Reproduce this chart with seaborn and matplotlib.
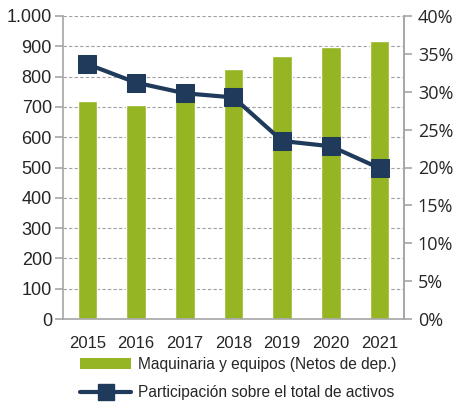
import numpy as np
import pandas as pd
import seaborn as sns
import matplotlib.pyplot as plt
from matplotlib.ticker import FuncFormatter, FixedLocator
from matplotlib.patches import Patch
from matplotlib.lines import Line2D

years = ['2015', '2016', '2017', '2018', '2019', '2020', '2021']
maquinaria = [719, 706, 745, 824, 868, 898, 918]
participacion = [33.65, 31.2, 29.8, 29.25, 23.5, 22.8, 19.9]

green = '#95B523'
navy = '#1F3A5A'
grey = '#A6A6A6'

sns.set_style('white')
plt.rcParams['font.family'] = ['Liberation Sans', 'DejaVu Sans']

fig = plt.figure(figsize=(4.53, 4.09), dpi=100)
ax = fig.add_axes([63 / 453, 90 / 409, 341 / 453, 303 / 409])

df = pd.DataFrame({'year': years, 'value': maquinaria, 'share': participacion})
sns.barplot(data=df, x='year', y='value', color=green, width=0.4,
            saturation=1, ax=ax, zorder=2)

ax.set_xlim(-0.5, 6.5)
ax.set_ylim(0, 1000)
ax.set_yticks(np.arange(0, 1001, 100))
ax.yaxis.set_major_formatter(FuncFormatter(lambda v, p: f'{int(v):,}'.replace(',', '.')))
ax.set_xlabel('')
ax.set_ylabel('')
ax.set_axisbelow(True)
ax.yaxis.grid(True, linestyle=(0, (3, 2)), color='#A0A0A0', linewidth=0.8)

ax.spines['top'].set_visible(False)
for s in ['left', 'right', 'bottom']:
    ax.spines[s].set_color(grey)
    ax.spines[s].set_linewidth(1.2)

ax.tick_params(axis='x', which='major', length=0, labelsize=12, pad=12)
ax.xaxis.set_minor_locator(FixedLocator(np.arange(-0.5, 7, 1)))
ax.tick_params(axis='x', which='minor', length=5, color=grey, width=1.2, direction='out')
ax.tick_params(axis='y', length=6, color=grey, width=1.2, labelsize=13, pad=2, left=True)

ax2 = ax.twinx()
sns.lineplot(x=np.arange(len(years)), y=participacion, ax=ax2, color=navy,
             linewidth=3, marker='s', markersize=13, markeredgecolor=navy, zorder=5)
ax2.set_ylim(0, 40)
ax2.set_yticks(np.arange(0, 41, 5))
ax2.yaxis.set_major_formatter(FuncFormatter(lambda v, p: f'{int(v)}%'))
ax2.tick_params(axis='y', length=6, color=grey, width=1.2, labelsize=13, pad=4, right=True)
for lab in ax2.get_yticklabels():
    lab.set_fontfamily(['Open Sans', 'DejaVu Sans'])
for s in ['top', 'left', 'bottom']:
    ax2.spines[s].set_visible(False)
ax2.spines['right'].set_color(grey)
ax2.spines['right'].set_linewidth(1.2)

handles = [Patch(facecolor=green, edgecolor='none'),
           Line2D([0], [0], color=navy, linewidth=3, marker='s', markersize=11)]
labels = ['Maquinaria y equipos (Netos de dep.)', 'Participación sobre el total de activos']
fig.legend(handles, labels, loc='upper left', bbox_to_anchor=(80 / 453, 1 - 357 / 409),
           ncol=1, frameon=False, fontsize=11.2,
           handlelength=3.3, handleheight=0.7, labelspacing=0.85, handletextpad=0.4,
           borderpad=0, borderaxespad=0)

fig.savefig('out.png', dpi=100)
